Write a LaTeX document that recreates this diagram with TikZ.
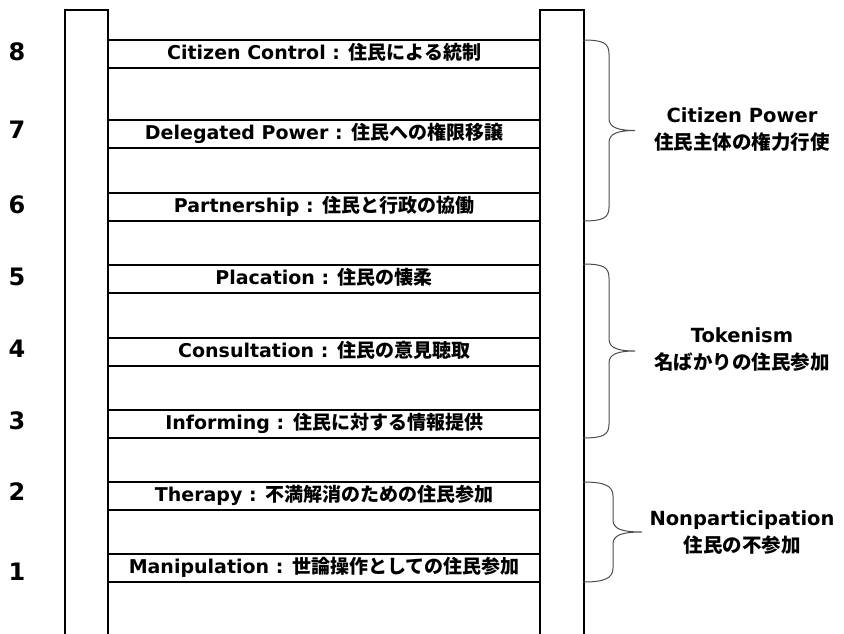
\documentclass[tikz,border=0pt]{standalone}
\usepackage{fontspec}
\setmainfont{DejaVu Sans}
\newfontfamily\jp{Noto Sans CJK JP}
\newcommand\groupbrace[4]{% #1 top, #2 bottom, #3 x of vertical part, #4 x of tip
  \pgfmathsetmacro\brmid{(#1+#2)/2}
  \draw[bracestyle] (583,#1) .. controls (603,#1) and (#3,#1+3) .. (#3,#1+14)
    -- (#3,\brmid-12) .. controls (#3,\brmid-3) and (#3+9,\brmid) .. (#4,\brmid)
    .. controls (#3+9,\brmid) and (#3,\brmid+3) .. (#3,\brmid+12)
    -- (#3,#2-14) .. controls (#3,#2-3) and (603,#2) .. (583,#2);
}
\begin{document}
\begin{tikzpicture}[x=1pt,y=-1pt,
  rail/.style={line width=2pt},
  rungline/.style={line width=2pt},
  rungtext/.style={font=\fontsize{19}{22}\selectfont\bfseries, inner sep=0pt,
    minimum width=432pt, minimum height=28pt, text height=15pt, text depth=4pt, anchor=west},
  num/.style={font=\fontsize{24}{28}\selectfont\bfseries, inner sep=0pt},
  bracestyle/.style={line width=1pt, black!70},
  grouplabel/.style={font=\fontsize{19.5}{24}\selectfont\bfseries, inner sep=0pt, anchor=base}]
\useasboundingbox (0,0) rectangle (844,633);
% rails
\draw[rail] (65,650) -- (65,10) -- (108,10) -- (108,650);
\draw[rail] (540,650) -- (540,10) -- (584,10) -- (584,650);
% rungs
\node[rungtext] (r8) at (108,54)  {Citizen Control : {\jp 住民による統制}};
\node[rungtext] (r7) at (108,134) {Delegated Power : {\jp 住民への権限移譲}};
\node[rungtext] (r6) at (108,207) {Partnership : {\jp 住民と行政の協働}};
\node[rungtext] (r5) at (108,279) {Placation : {\jp 住民の懐柔}};
\node[rungtext] (r4) at (108,352) {Consultation : {\jp 住民の意見聴取}};
\node[rungtext] (r3) at (108,424) {Informing : {\jp 住民に対する情報提供}};
\node[rungtext] (r2) at (108,496) {Therapy : {\jp 不満解消のための住民参加}};
\node[rungtext] (r1) at (108,568) {Manipulation : {\jp 世論操作としての住民参加}};
\foreach \r in {r1,r2,r3,r4,r5,r6,r7,r8}{
  \draw[rungline] (\r.north west) -- (\r.north east) (\r.south west) -- (\r.south east);
}
% numbers
\node[num] (n8) at (17,52)  {8};
\node[num] (n7) at (17,130) {7};
\node[num] (n6) at (17,205) {6};
\node[num] (n5) at (17,277) {5};
\node[num] (n4) at (17,349) {4};
\node[num] (n3) at (17,421) {3};
\node[num] (n2) at (17,492) {2};
\node[num] (n1) at (17,572) {1};
% braces
\groupbrace{40}{221}{609}{635}
\groupbrace{264}{438}{609}{635}
\groupbrace{482}{582}{613}{642}
% group labels
\node[grouplabel] (g1a) at (742,122) {Citizen Power};
\node[grouplabel] (g1b) at (742,149) {\jp 住民主体の権力行使};
\node[grouplabel] (g2a) at (742,342) {Tokenism};
\node[grouplabel] (g2b) at (742,369) {\jp 名ばかりの住民参加};
\node[grouplabel] (g3a) at (742,525) {Nonparticipation};
\node[grouplabel] (g3b) at (742,552) {\jp 住民の不参加};
\end{tikzpicture}
\end{document}
